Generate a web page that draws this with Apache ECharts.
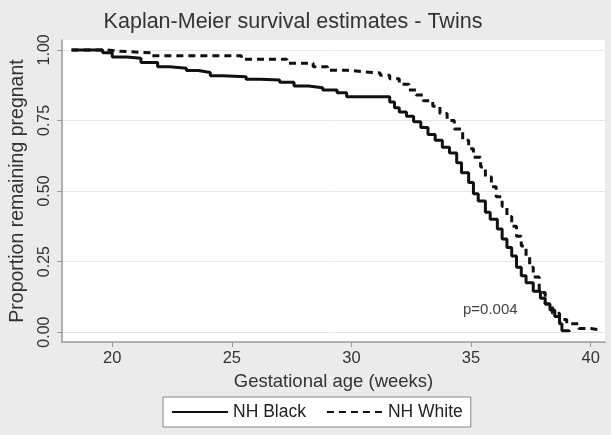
<!DOCTYPE html>
<html lang="en">
<head>
<meta charset="utf-8" />
<title>Kaplan-Meier survival estimates - Twins</title>
<script src="https://cdn.jsdelivr.net/npm/echarts@6/dist/echarts.min.js"></script>
<style>
  html, body { margin: 0; padding: 0; background: #ebebeb; }
  #chart { width: 611px; height: 435px; }
</style>
</head>
<body>
<div id="chart"></div>
<script type="text/javascript">
// KM step points (week, proportion still pregnant)
var weeksBlack = [18.3, 19.6, 20.0, 20.6, 21.2, 21.9, 22.4, 23.1, 23.6, 24.1, 24.6, 25.6, 26.2, 27.0, 27.6, 28.2, 28.8, 29.4, 29.8,
  31.6, 31.8, 32.0, 32.3, 32.6, 32.9, 33.2, 33.5, 33.8, 34.1, 34.4, 34.6, 34.9, 35.1, 35.3, 35.6, 35.8, 36.1, 36.3, 36.5,
  36.7, 36.9, 37.1, 37.3, 37.6, 37.9, 38.1, 38.3, 38.5, 38.7, 38.8, 39.1];
var propBlack = [1.0, 0.99, 0.975, 0.97, 0.955, 0.94, 0.935, 0.927, 0.92, 0.908, 0.905, 0.896, 0.893, 0.885, 0.872, 0.866, 0.858, 0.848, 0.834,
  0.815, 0.795, 0.78, 0.765, 0.745, 0.725, 0.70, 0.68, 0.655, 0.635, 0.60, 0.565, 0.53, 0.49, 0.465, 0.425, 0.40, 0.365, 0.33, 0.30,
  0.27, 0.23, 0.20, 0.175, 0.145, 0.12, 0.10, 0.078, 0.055, 0.03, 0.005, 0.0];

var weeksWhite = [18.3, 19.8, 20.3, 21.6, 25.4, 27.3, 28.4, 29.0, 29.8, 30.6, 31.2, 31.6, 32.0, 32.4, 32.7, 33.0, 33.4, 33.7, 34.0,
  34.3, 34.65, 34.9, 35.1, 35.4, 35.6, 35.85, 36.05, 36.3, 36.5, 36.7, 36.9, 37.1, 37.3, 37.45, 37.6, 37.85, 38.1, 38.4, 38.7,
  39.0, 39.5, 40.0, 40.4];
var propWhite = [1.0, 0.995, 0.99, 0.979, 0.967, 0.953, 0.94, 0.928, 0.922, 0.918, 0.91, 0.898, 0.878, 0.858, 0.84, 0.82, 0.80, 0.775, 0.75,
  0.72, 0.68, 0.65, 0.62, 0.585, 0.55, 0.515, 0.48, 0.445, 0.41, 0.375, 0.34, 0.305, 0.27, 0.23, 0.195, 0.14, 0.10, 0.067, 0.045,
  0.03, 0.013, 0.008, 0.005];

var xTicks = [20, 25, 30, 35, 40];
var yTicks = [0, 0.25, 0.5, 0.75, 1];
var seriesNames = ['NH Black', 'NH White'];
var pText = 'p=0.004';

function pairs(xs, ys) {
  var out = [];
  for (var i = 0; i < xs.length; i++) out.push([xs[i], ys[i]]);
  return out;
}

var font = 'Liberation Sans, Arial, sans-serif';
var chart = echarts.init(document.getElementById('chart'));

var option = {
  backgroundColor: '#ebebeb',
  animation: false,
  textStyle: { fontFamily: font },
  title: {
    text: 'Kaplan-Meier survival estimates - Twins',
    left: 288,
    textAlign: 'center',
    top: 6,
    textStyle: { fontFamily: font, fontSize: 21.5, fontWeight: 'normal', color: '#333' }
  },
  grid: {
    left: 61, right: 6, top: 40, bottom: 93,
    show: true, backgroundColor: '#fff', borderWidth: 0
  },
  legend: {
    left: 163, top: 397,
    data: seriesNames,
    backgroundColor: '#fff',
    borderColor: '#888',
    borderWidth: 1,
    borderRadius: 0,
    padding: [6, 8, 6, 8],
    itemWidth: 56,
    itemHeight: 14,
    itemGap: 20,
    itemStyle: { opacity: 0 },
    textStyle: { fontFamily: font, fontSize: 17.5, color: '#222' }
  },
  xAxis: {
    type: 'value',
    min: 17.9, max: 40.6,
    name: 'Gestational age (weeks)',
    nameLocation: 'middle',
    nameGap: 30,
    nameTextStyle: { fontFamily: font, fontSize: 18.5, color: '#333' },
    axisLine: { onZero: false, lineStyle: { color: '#999', width: 1.5 } },
    axisTick: { show: true, length: 5, lineStyle: { color: '#999' }, customValues: xTicks },
    axisLabel: { customValues: xTicks, fontFamily: font, fontSize: 16.5, color: '#333', margin: 8 },
    splitLine: { show: false }
  },
  yAxis: {
    type: 'value',
    min: -0.035, max: 1.035,
    name: 'Proportion remaining pregnant',
    nameLocation: 'middle',
    nameGap: 34,
    nameTextStyle: { fontFamily: font, fontSize: 19.5, color: '#333' },
    axisLine: { show: true, onZero: false, lineStyle: { color: '#999', width: 1.5 } },
    axisTick: { show: true, length: 5, lineStyle: { color: '#999' }, customValues: yTicks },
    axisLabel: {
      customValues: yTicks, rotate: 90, fontFamily: font, fontSize: 16, color: '#333', margin: 9,
      formatter: function (v) { return v.toFixed(2); }
    },
    splitLine: { show: true, lineStyle: { color: '#e6e6e6', width: 1 } }
  },
  graphic: [{
    type: 'text',
    left: 463, top: 302,
    style: { text: pText, fontFamily: font, fontSize: 15, fill: '#444' }
  }],
  series: [
    {
      name: seriesNames[0],
      type: 'line',
      step: 'end',
      symbol: 'none',
      data: pairs(weeksBlack, propBlack),
      lineStyle: { color: '#111', width: 3 },
      itemStyle: { color: '#111' }
    },
    {
      name: seriesNames[1],
      type: 'line',
      step: 'end',
      symbol: 'none',
      data: pairs(weeksWhite, propWhite),
      lineStyle: { color: '#111', width: 3, type: [7, 5] },
      itemStyle: { color: '#111' }
    }
  ]
};
chart.setOption(option);
</script>
</body>
</html>
